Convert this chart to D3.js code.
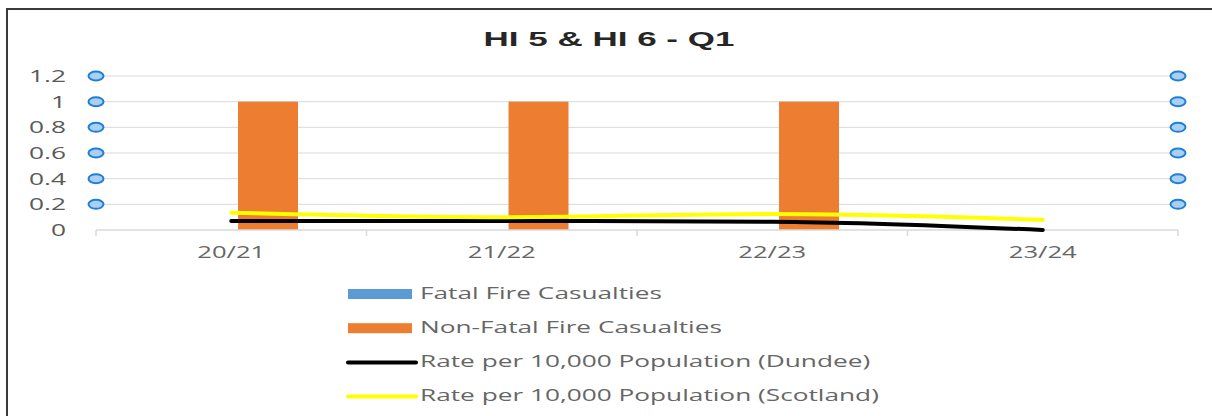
<!DOCTYPE html>
<html>
<head>
<meta charset="utf-8">
<script src="https://cdn.jsdelivr.net/npm/d3@7"></script>
<style>
  html, body { margin: 0; padding: 0; background: #fff; }
  svg { display: block; }
</style>
</head>
<body>
<div id="chart"></div>
<script>
// ===== DATA =====
const categories = ['20/21', '21/22', '22/23', '23/24'];
const barSeries = ['Fatal Fire Casualties', 'Non-Fatal Fire Casualties'];
const fatal = [0, 0, 0, 0];
const nonFatal = [1, 1, 1, 0];
const rateDundee = [0.07, 0.07, 0.065, 0.0];
const rateScotland = [0.135, 0.10, 0.125, 0.08];
const yTicks = [0, 0.2, 0.4, 0.6, 0.8, 1, 1.2];
const markerTicks = [0.2, 0.4, 0.6, 0.8, 1, 1.2];

const colors = {
  fatal: '#5b9bd5',
  nonFatal: '#ed7d31',
  dundee: '#000000',
  scotland: '#ffff00',
};

const W = 1212, H = 416;
const svg = d3.select('#chart').append('svg').attr('width', W).attr('height', H);

// outer frame (cut off on right/bottom like the screenshot)
svg.append('rect')
  .attr('x', 7).attr('y', 9)
  .attr('width', W + 20).attr('height', H + 20)
  .attr('fill', 'none').attr('stroke', '#3a3a3a').attr('stroke-width', 2);

// stretched text helper
function stretchText(g, x, y, txt, sx, anchor) {
  return g.append('text')
    .attr('transform', `translate(${x},${y}) scale(${sx},1)`)
    .attr('text-anchor', anchor || 'start')
    .text(txt);
}

// title
const title = svg.append('g')
  .attr('font-family', '"Liberation Sans", Arial, sans-serif')
  .attr('font-weight', 700).attr('font-size', 20).attr('fill', '#262626');
stretchText(title, 609, 46, 'HI 5 & HI 6 - Q1', 1.75, 'middle');

// scales
const x = d3.scaleBand().domain(categories).range([96, 1178]).padding(0);
const y = d3.scaleLinear().domain([0, 1.2]).range([230, 76]);
const bw = x.bandwidth();
const xs = d3.scaleBand().domain(barSeries)
  .range([bw * 68 / 270.5, bw * 202 / 270.5]).paddingInner(0.19);

// gridlines
svg.append('g').selectAll('line').data(yTicks.slice(1)).join('line')
  .attr('x1', 96).attr('x2', 1178)
  .attr('y1', d => y(d)).attr('y2', d => y(d))
  .attr('stroke', '#d9d9d9').attr('stroke-width', 1);

// y labels
const yl = svg.append('g')
  .attr('font-family', '"Open Sans", sans-serif').attr('font-size', 17).attr('fill', '#595959');
yTicks.forEach(t => stretchText(yl, 66, y(t) + 6, String(t), 1.55, 'end'));

// bars
const barData = [];
categories.forEach((c, i) => {
  barData.push({ cat: c, series: barSeries[0], v: fatal[i], color: colors.fatal });
  barData.push({ cat: c, series: barSeries[1], v: nonFatal[i], color: colors.nonFatal });
});
svg.append('g').selectAll('rect').data(barData).join('rect')
  .attr('x', d => x(d.cat) + xs(d.series))
  .attr('width', xs.bandwidth())
  .attr('y', d => y(d.v))
  .attr('height', d => y(0) - y(d.v))
  .attr('fill', d => d.color);

// x axis
const xAxis = svg.append('g').attr('transform', `translate(0,${y(0)})`);
xAxis.append('line').attr('x1', 96).attr('x2', 1178)
  .attr('stroke', '#d9d9d9').attr('stroke-width', 1.5);
const bounds = categories.map(c => x(c)).concat([x.range()[1]]);
xAxis.selectAll('.tk').data(bounds).join('line')
  .attr('x1', d => d).attr('x2', d => d).attr('y1', 0).attr('y2', 6)
  .attr('stroke', '#d9d9d9').attr('stroke-width', 1.5);
const xl = svg.append('g')
  .attr('font-family', '"Open Sans", sans-serif').attr('font-size', 16).attr('fill', '#666666');
categories.forEach(c => stretchText(xl, x(c) + bw / 2, 258, c, 1.6, 'middle'));

// lines
const line = d3.line()
  .x((d, i) => x(categories[i]) + bw / 2)
  .y(d => y(d))
  .curve(d3.curveMonotoneX);
svg.append('path').datum(rateDundee)
  .attr('d', line).attr('fill', 'none')
  .attr('stroke', colors.dundee).attr('stroke-width', 4).attr('stroke-linecap', 'round');
svg.append('path').datum(rateScotland)
  .attr('d', line).attr('fill', 'none')
  .attr('stroke', colors.scotland).attr('stroke-width', 4).attr('stroke-linecap', 'round');

// blue marker circles at both axis ends
const ends = x.range();
ends.forEach(ex => {
  svg.append('g').selectAll('ellipse').data(markerTicks).join('ellipse')
    .attr('cx', ex).attr('cy', d => y(d))
    .attr('rx', 7.5).attr('ry', 4.5)
    .attr('fill', '#a9cff3').attr('stroke', '#1f7fd6').attr('stroke-width', 2);
});

// legend
const legendItems = [
  { label: 'Fatal Fire Casualties', color: colors.fatal, type: 'rect' },
  { label: 'Non-Fatal Fire Casualties', color: colors.nonFatal, type: 'rect' },
  { label: 'Rate per 10,000 Population (Dundee)', color: colors.dundee, type: 'line' },
  { label: 'Rate per 10,000 Population (Scotland)', color: colors.scotland, type: 'line' },
];
const lg = svg.append('g')
  .attr('font-family', '"Open Sans", sans-serif').attr('font-size', 16.5).attr('fill', '#666666');
legendItems.forEach((it, i) => {
  const cy = 294 + i * 34.2;
  if (it.type === 'rect') {
    lg.append('rect').attr('x', 348).attr('y', cy - 5).attr('width', 64).attr('height', 10)
      .attr('fill', it.color);
  } else {
    lg.append('line').attr('x1', 348).attr('x2', 416).attr('y1', cy).attr('y2', cy)
      .attr('stroke', it.color).attr('stroke-width', 4).attr('stroke-linecap', 'round');
  }
  stretchText(lg, 420, cy + 4.5, it.label, 1.59, 'start');
});
</script>
</body>
</html>
